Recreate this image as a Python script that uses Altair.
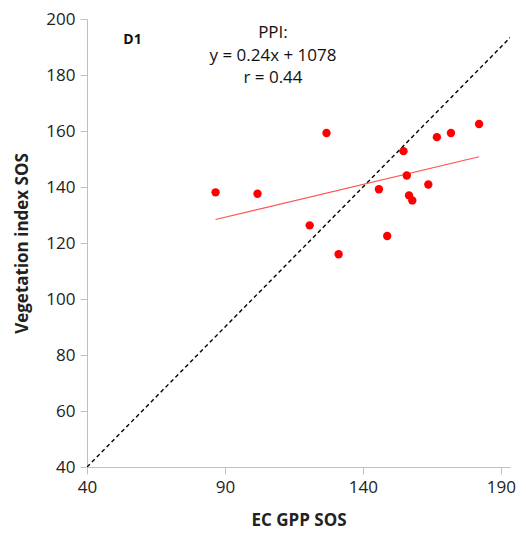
import altair as alt
import pandas as pd

# Scatter points (EC GPP SOS vs Vegetation index SOS)
gpp_sos = [86.6, 101.8, 126.8, 120.7, 131.2, 145.8, 148.8, 154.7, 155.9, 156.7, 157.9, 163.7, 166.8, 171.9, 182.1]
vi_sos = [138.1, 137.6, 159.3, 126.3, 116.0, 139.2, 122.5, 152.8, 144.1, 137.0, 135.2, 140.9, 157.8, 159.3, 162.5]

# Fitted trend line endpoints
trend_x = [86.6, 182.1]
trend_y = [128.4, 150.8]

# 1:1 line
one_x = [40, 197]
one_y = [40, 197]

# annotation text
ann_text = ["PPI:", "y = 0.24x + 1078", "r = 0.44"]
ann_x = [107.4, 107.4, 107.4]
ann_y = [195.0, 186.9, 178.8]
panel_label = ["D1"]
panel_x = [56.5]
panel_y = [192.5]

x_ticks = [40, 90, 140, 190]
y_ticks = [40, 60, 80, 100, 120, 140, 160, 180, 200]

FONT = "Open Sans"

pts = pd.DataFrame({"x": gpp_sos, "y": vi_sos})
trend = pd.DataFrame({"x": trend_x, "y": trend_y})
one = pd.DataFrame({"x": one_x, "y": one_y})
ann = pd.DataFrame({"x": ann_x, "y": ann_y, "t": ann_text})
pan = pd.DataFrame({"x": panel_x, "y": panel_y, "t": panel_label})

xs = alt.Scale(domain=[40, 193.3], nice=False, zero=False)
ys = alt.Scale(domain=[40, 200], nice=False, zero=False)

xax = alt.Axis(values=x_ticks, title="EC GPP SOS", grid=False, domainColor="#c0c0c0",
               tickColor="#c0c0c0", tickSize=7, labelFontSize=17, labelFont=FONT,
               labelColor="#222", labelPadding=5, titleFont=FONT, titleFontSize=17,
               titleFontWeight="bold", titleColor="#222", titlePadding=17, labelFlush=False)
yax = alt.Axis(values=y_ticks, title="Vegetation index SOS", grid=False, domainColor="#c0c0c0",
               tickColor="#c0c0c0", tickSize=7, labelFontSize=17, labelFont=FONT,
               labelColor="#222", labelPadding=5, titleFont=FONT, titleFontSize=17,
               titleFontWeight="bold", titleColor="#222", titlePadding=14)

base_x = alt.X("x:Q", scale=xs, axis=xax)
base_y = alt.Y("y:Q", scale=ys, axis=yax)

one_line = alt.Chart(one).mark_line(color="black", strokeDash=[4, 3], strokeWidth=1.4, clip=True).encode(
    x=base_x, y=base_y)
trend_line = alt.Chart(trend).mark_line(color="#ff5050", strokeWidth=1.2).encode(
    x="x:Q", y="y:Q")
points = alt.Chart(pts).mark_circle(color="#ff0000", opacity=1, size=70).encode(
    x="x:Q", y="y:Q")
ann_text_m = alt.Chart(ann).mark_text(font=FONT, fontSize=17, color="#111", align="center").encode(
    x="x:Q", y="y:Q", text="t:N")
pan_text = alt.Chart(pan).mark_text(font=FONT, fontSize=14, fontWeight="bold", color="#111",
                                    align="center").encode(x="x:Q", y="y:Q", text="t:N")

chart = alt.layer(one_line, trend_line, points, ann_text_m, pan_text).properties(
    width=423, height=448,
    autosize=alt.AutoSizeParams(type="none"),
    padding={"left": 79, "top": 11, "right": 8, "bottom": 62},
).configure_view(stroke=None)

chart.save("out.html", embed_options={"renderer": "svg", "actions": False})
